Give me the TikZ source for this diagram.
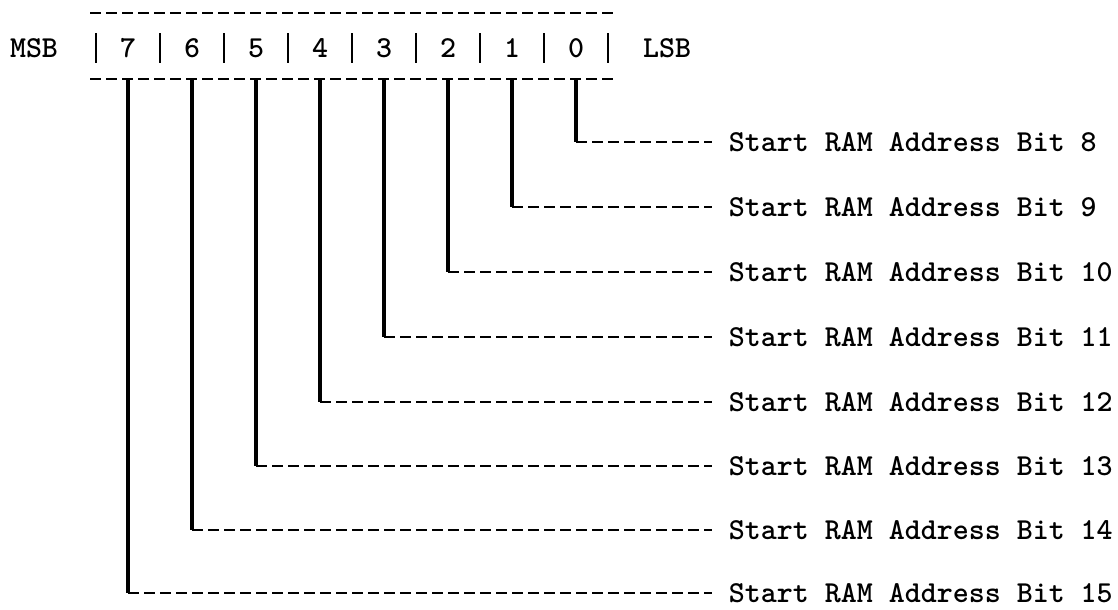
\documentclass[tikz,border=0pt]{standalone}
\usepackage{fontspec}

\begin{document}
\begin{tikzpicture}[x=0.03cm,y=-0.03cm,
    font=\ttfamily\bfseries\fontsize{26}{30}\selectfont,
    lead/.style={line width=2.2pt,dash pattern=on 0.33cm off 0.15cm},
    leg/.style={line width=4.2pt},
    sep/.style={line width=1.3pt},
    bitname/.style={anchor=west,inner xsep=0.5cm,inner ysep=0pt}]
      \useasboundingbox (0,0) rectangle (1118,609);

      \node (MSB) at (34,48) {MSB};
      \node (LSB) at (667,48) {LSB};
      \node (B7) at (128,48) {7};
      \node (B6) at (192,48) {6};
      \node (B5) at (256,48) {5};
      \node (B4) at (320,48) {4};
      \node (B3) at (384,48) {3};
      \node (B2) at (448,48) {2};
      \node (B1) at (512,48) {1};
      \node (B0) at (576,48) {0};
      \coordinate (top) at (90,13);
      \coordinate (bot) at (90,79);

      \draw[lead] (top) -- (617,13);
      \draw[lead] (bot) -- (617,79);
      \draw[sep] (96,33) -- (96,63) (160,33) -- (160,63) (224,33) -- (224,63)
                 (288,33) -- (288,63) (352,33) -- (352,63) (416,33) -- (416,63)
                 (480,33) -- (480,63) (544,33) -- (544,63) (608,33) -- (608,63);

      \node[bitname] (A8) at (712,142) {Start RAM Address Bit 8};
      \node[bitname] (A9) at (712,207) {Start RAM Address Bit 9};
      \node[bitname] (A10) at (712,272) {Start RAM Address Bit 10};
      \node[bitname] (A11) at (712,337) {Start RAM Address Bit 11};
      \node[bitname] (A12) at (712,402) {Start RAM Address Bit 12};
      \node[bitname] (A13) at (712,466) {Start RAM Address Bit 13};
      \node[bitname] (A14) at (712,530) {Start RAM Address Bit 14};
      \node[bitname] (A15) at (712,593) {Start RAM Address Bit 15};

      \draw[leg] (B0 |- bot) -- (B0 |- A8);
      \draw[leg] (B1 |- bot) -- (B1 |- A9);
      \draw[leg] (B2 |- bot) -- (B2 |- A10);
      \draw[leg] (B3 |- bot) -- (B3 |- A11);
      \draw[leg] (B4 |- bot) -- (B4 |- A12);
      \draw[leg] (B5 |- bot) -- (B5 |- A13);
      \draw[leg] (B6 |- bot) -- (B6 |- A14);
      \draw[leg] (B7 |- bot) -- (B7 |- A15);
      \draw[lead] (B0 |- A8) -- (A8.west);
      \draw[lead] (B1 |- A9) -- (A9.west);
      \draw[lead] (B2 |- A10) -- (A10.west);
      \draw[lead] (B3 |- A11) -- (A11.west);
      \draw[lead] (B4 |- A12) -- (A12.west);
      \draw[lead] (B5 |- A13) -- (A13.west);
      \draw[lead] (B6 |- A14) -- (A14.west);
      \draw[lead] (B7 |- A15) -- (A15.west);
    \end{tikzpicture}
\end{document}
